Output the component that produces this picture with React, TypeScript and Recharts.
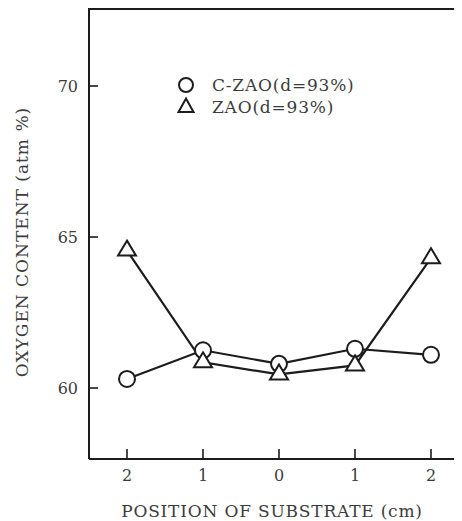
import { LineChart, Line, XAxis, YAxis, CartesianGrid } from 'recharts'

// substrate position (cm from centre), oxygen content in atm %
const positions = [-2, -1, 0, 1, 2]
const czaoValues = [60.3, 61.25, 60.8, 61.3, 61.1]
const zaoValues = [64.55, 60.85, 60.45, 60.75, 64.3]
const yTicks = [60, 65, 70]
const yDomain = [57.65, 72.55]

const seriesNames = ['C-ZAO(d=93%)', 'ZAO(d=93%)']

const INK = '#1c1c1c'
const TEXT = '#3c3c3c'
const FONT = 'DejaVu Serif'

const data = positions.map((pos, i) => ({
  pos,
  czao: czaoValues[i],
  zao: zaoValues[i],
}))

const CircleMark = ({ cx, cy }: { cx: number; cy: number }) => (
  <circle cx={cx} cy={cy} r={8} fill="#fff" stroke={INK} strokeWidth={2} />
)

const TriangleMark = ({ cx, cy }: { cx: number; cy: number }) => (
  <path
    d={`M${cx},${cy - 10} L${cx + 9},${cy + 5} L${cx - 9},${cy + 5} Z`}
    fill="#fff"
    stroke={INK}
    strokeWidth={2}
  />
)

const YTick = ({ x, y, payload }: any) => (
  <g>
    <path d={`M${x},${y} H${x + 9}`} stroke={INK} strokeWidth={1.6} />
    <text x={x - 11} y={y + 6} textAnchor="end" fontFamily={FONT} fontSize={16} fill={TEXT}>
      {payload.value}
    </text>
  </g>
)

const XTick = ({ x, y, payload }: any) => (
  <g>
    <path d={`M${x},${y} V${y - 10}`} stroke={INK} strokeWidth={1.6} />
    <text x={x} y={y + 22} textAnchor="middle" fontFamily={FONT} fontSize={16} fill={TEXT}>
      {Math.abs(payload.value)}
    </text>
  </g>
)

export default function App() {
  return (
    <div
      style={{
        position: 'relative',
        width: 454,
        height: 513,
        overflow: 'hidden',
        // top edge of the frame, from the y axis to the clipped right side
        backgroundImage: `linear-gradient(${INK}, ${INK})`,
        backgroundRepeat: 'no-repeat',
        backgroundPosition: '80px 0px',
        backgroundSize: '400px 2px',
      }}
    >
      <LineChart width={480} height={513} data={data} margin={{ top: 1, right: 19, left: 0, bottom: 0 }}>
        <CartesianGrid
          vertical={false}
          horizontalCoordinatesGenerator={({ offset }: any) => [offset.top]}
          stroke={INK}
          strokeWidth={2}
          strokeDasharray="0"
        />
        <XAxis
          dataKey="pos"
          type="number"
          domain={[-2.5, 2.5]}
          ticks={positions}
          height={62}
          tickSize={0}
          tickMargin={0}
          tick={<XTick />}
          axisLine={{ stroke: INK, strokeWidth: 2 }}
        />
        <YAxis
          type="number"
          domain={yDomain}
          allowDataOverflow
          ticks={yTicks}
          width={81}
          tickSize={0}
          tickMargin={0}
          tick={<YTick />}
          axisLine={{ stroke: INK, strokeWidth: 2 }}
        />

        {/* connecting lines first, then the open markers on top */}
        <Line dataKey="zao" stroke={INK} strokeWidth={2.2} dot={false} isAnimationActive={false} />
        <Line dataKey="czao" stroke={INK} strokeWidth={2.2} dot={false} isAnimationActive={false} />
        <Line
          dataKey="czao"
          stroke="none"
          isAnimationActive={false}
          dot={(p: any) => <CircleMark key={`c-${p.index}`} cx={p.cx} cy={p.cy} />}
        />
        <Line
          dataKey="zao"
          stroke="none"
          isAnimationActive={false}
          dot={(p: any) => <TriangleMark key={`t-${p.index}`} cx={p.cx} cy={p.cy} />}
        />

        {/* legend */}
        <g fontFamily={FONT} fontSize={17} fill={TEXT} letterSpacing={0.8}>
          <circle cx={178} cy={77} r={7} fill="#fff" stroke={INK} strokeWidth={2} />
          <text x={204} y={83}>{seriesNames[0]}</text>
          <path d="M178,90.5 L185.5,104 L170.5,104 Z" fill="#fff" stroke={INK} strokeWidth={2} />
          <text x={204} y={105}>{seriesNames[1]}</text>
        </g>

        {/* axis titles */}
        <text x={264} y={509} textAnchor="middle" fontFamily={FONT} fontSize={17} fill={TEXT} letterSpacing={0.8}>
          POSITION OF SUBSTRATE (cm)
        </text>
        <text
          x={20}
          y={234}
          transform="rotate(-90 20 234)"
          textAnchor="middle"
          fontFamily={FONT}
          fontSize={17}
          fill={TEXT}
          letterSpacing={1}
        >
          OXYGEN CONTENT (atm %)
        </text>
      </LineChart>
    </div>
  )
}
